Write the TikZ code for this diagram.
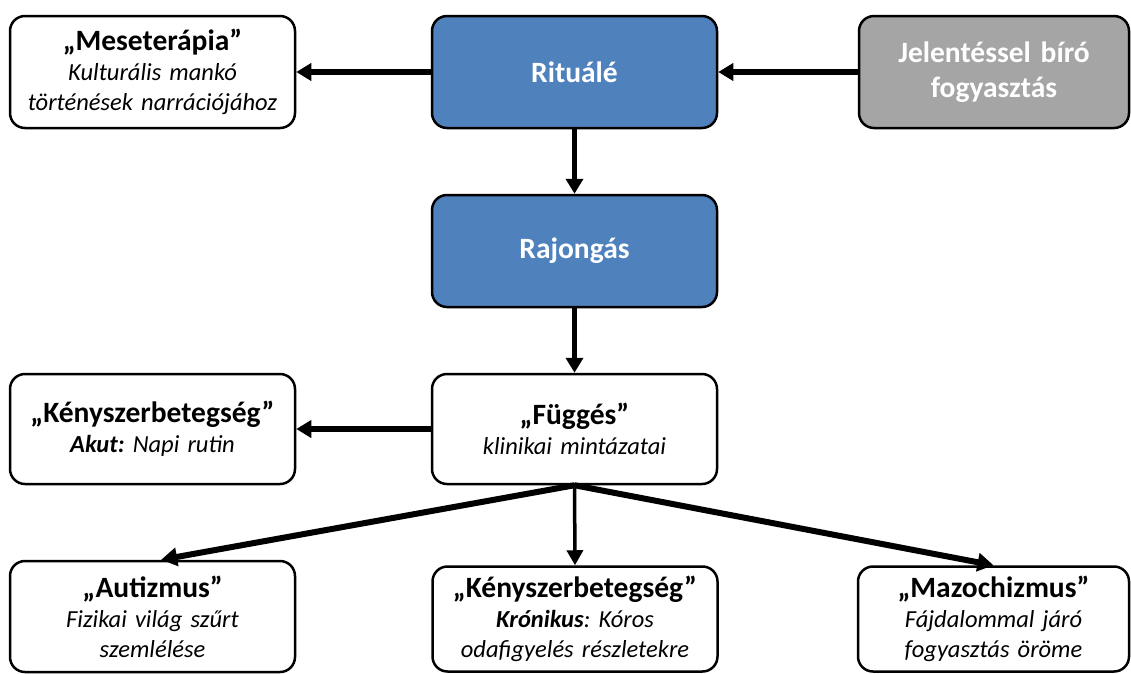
\documentclass[tikz,border=0pt]{standalone}
\usepackage{fontspec}
\setmainfont{Carlito}
\usetikzlibrary{arrows.meta,calc}
\definecolor{ritblue}{HTML}{4F81BD}
\definecolor{boxgray}{HTML}{A5A5A5}

% heading line inside a card
\newcommand{\hd}[1]{{\fontsize{29.5}{30}\selectfont\bfseries #1}}

\tikzset{
  card/.style={draw=black, line width=2.5pt, rounded corners=15pt, fill=white,
    align=center, inner sep=0pt, text width=#1,
    minimum width=#1, font=\fontsize{24.5}{30}\selectfont\frenchspacing},
  card/.default=285pt,
  bluecard/.style={card, fill=ritblue, text=white,
    font=\fontsize{29.5}{35}\selectfont\bfseries},
  graycard/.style={card=270pt, fill=boxgray, text=white,
    font=\fontsize{29.5}{35}\selectfont\bfseries},
  flow/.style={line width=5.5pt, -{Triangle[length=15pt,width=17pt]}},
  thinflow/.style={line width=3.5pt, -{Triangle[length=15pt,width=16pt]}},
  fatflow/.style={line width=6pt, -{Triangle[length=16pt,width=18pt]}},
}

\begin{document}
\begin{tikzpicture}[x=1pt,y=-1pt]
\useasboundingbox (0,0) rectangle (1131,673);

% top row
\node[card, minimum height=112pt] (mese) at (152.5,72)
  {\hd{„Meseterápia”}\\ \textit{Kulturális mankó}\\ \textit{történések narrációjához}};
\node[bluecard, minimum height=112pt] (ritu) at (574.5,72) {Rituálé};
\node[graycard, minimum height=112pt] (jel) at (994,72)
  {Jelentéssel bíró\\ fogyasztás};

% middle column
\node[bluecard, minimum height=112pt] (raj) at (574.5,251) {Rajongás};
\node[card, minimum height=110pt] (fugg) at (574.5,429)
  {\hd{„Függés”}\\ \textit{klinikai mintázatai}};
\node[card, minimum height=110pt] (akut) at (152.5,429)
  {\hd{„Kényszerbetegség”}\\ \textbf{\textit{Akut:}} \textit{Napi rutin}};

% bottom row
\node[card, minimum height=111pt] (aut) at (152.5,616.5)
  {\hd{„Autizmus”}\\ \textit{Fizikai világ szűrt}\\ \textit{szemlélése}};
\node[card, minimum height=105pt] (kron) at (575,619)
  {\hd{„Kényszerbetegség”}\\ \textbf{\textit{Krónikus}}\textit{: Kóros}\\ \textit{odafigyelés részletekre}};
\node[card=271pt, minimum height=105pt] (maz) at (993.5,619)
  {\hd{„Mazochizmus”}\\ \textit{Fájdalommal járó}\\ \textit{fogyasztás öröme}};

% connectors
\draw[flow] (ritu.west) -- (mese.east);
\draw[flow] (jel.west) -- (ritu.east);
\draw[flow] (ritu.south) -- (raj.north);
\draw[flow] (raj.south) -- (fugg.north);
\draw[flow] (fugg.west) -- (akut.east);
\draw[fatflow] (fugg.south) -- ($(aut.north west)!0.53!(aut.north east)$);
\draw[thinflow] (fugg.south) -- (kron.north);
\draw[fatflow] (fugg.south) -- (maz.north);
\end{tikzpicture}
\end{document}
